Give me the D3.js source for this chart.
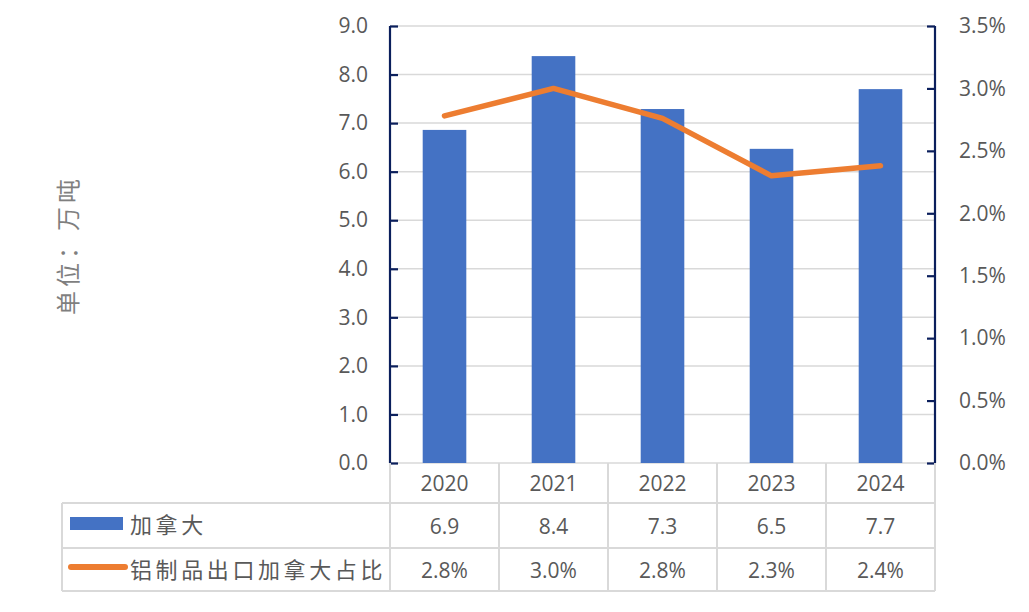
<!DOCTYPE html>
<html><head><meta charset="utf-8">
<script src="https://cdn.jsdelivr.net/npm/d3@7"></script>
<style>body{margin:0;background:#fff}svg{display:block}</style>
</head><body>
<script>
const years = ["2020","2021","2022","2023","2024"];
const volume = [6.86, 8.38, 7.29, 6.47, 7.70];          // 万吨
const share = [0.0278, 0.0300, 0.0276, 0.0230, 0.0238];  // 占比
const leftTicks = [0,1,2,3,4,5,6,7,8,9];
const rightTicks = [0,0.005,0.01,0.015,0.02,0.025,0.03,0.035];
const seriesNames = ["加拿大","铝制品出口加拿大占比"];
const yTitle = "单位：万吨";

const W = 1029, H = 612;
const svg = d3.select("body").append("svg").attr("width", W).attr("height", H);
const font = "'Open Sans','Noto Sans',sans-serif";
const cjk = "'Noto Sans CJK SC',sans-serif";
const textCol = "#595959", gridCol = "#d9d9d9", axisCol = "#0b1f5c";
const fs = "21px";

const x0 = 390, x1 = 935, yTop = 26, yBot = 463;
const x = d3.scaleBand().domain(years).range([x0, x1]).paddingInner(0).paddingOuter(0);
const yL = d3.scaleLinear().domain([0, 9]).range([yBot, yTop]);
const yR = d3.scaleLinear().domain([0, 0.035]).range([yBot, yTop]);

// gridlines
svg.append("g").selectAll("line").data(leftTicks).join("line")
  .attr("x1", x0).attr("x2", x1).attr("y1", d => yL(d)).attr("y2", d => yL(d))
  .attr("stroke", gridCol).attr("stroke-width", 1.5);

// bars
const bw = x.bandwidth() * 0.4;
svg.append("g").selectAll("rect").data(volume).join("rect")
  .attr("x", (d,i) => x(years[i]) + x.bandwidth()/2 - bw/2)
  .attr("width", bw)
  .attr("y", d => yL(d)).attr("height", d => yBot - yL(d))
  .attr("fill", "#4472C4");

// line
const line = d3.line().x((d,i) => x(years[i]) + x.bandwidth()/2).y(d => yR(d));
svg.append("path").datum(share).attr("d", line)
  .attr("fill", "none").attr("stroke", "#ED7D31").attr("stroke-width", 5.5)
  .attr("stroke-linejoin", "round").attr("stroke-linecap", "round");

// axes
const axL = d3.axisLeft(yL).tickValues(leftTicks).tickSize(-8).tickPadding(22).tickFormat(d3.format(".1f"));
const gL = svg.append("g").attr("transform", `translate(${x0},0)`).call(axL);
const axR = d3.axisRight(yR).tickValues(rightTicks).tickSize(-8).tickPadding(24).tickFormat(d3.format(".1%"));
const gR = svg.append("g").attr("transform", `translate(${x1},0)`).call(axR);
[gL, gR].forEach(g => {
  g.select(".domain").attr("stroke", axisCol).attr("stroke-width", 2.2).attr("d", `M0,${yTop}V${yBot}`);
  g.selectAll(".tick line").attr("stroke", axisCol).attr("stroke-width", 2.2);
  g.selectAll(".tick text").attr("fill", textCol).style("font-family", font).style("font-size", fs);
});

// y title
svg.append("text").attr("transform", `translate(77,245) rotate(-90)`)
  .attr("text-anchor", "middle").attr("fill", "#7f7f7f")
  .style("font-family", cjk).style("font-size", "24px").style("letter-spacing", "4px")
  .text(yTitle);

// data table
const rowY = [463, 503, 548, 591];
const tblL = 62;
const tg = svg.append("g").attr("stroke", gridCol).attr("stroke-width", 2);
tg.append("line").attr("x1", tblL).attr("x2", x1).attr("y1", rowY[1]).attr("y2", rowY[1]);
tg.append("line").attr("x1", tblL).attr("x2", x1).attr("y1", rowY[2]).attr("y2", rowY[2]);
tg.append("line").attr("x1", tblL).attr("x2", x1).attr("y1", rowY[3]).attr("y2", rowY[3]);
const colEdges = years.map(d => x(d)).concat([x1]);
tg.selectAll(".v").data(colEdges).join("line").attr("class","v")
  .attr("x1", d => d).attr("x2", d => d).attr("y1", rowY[0]).attr("y2", rowY[3]);
tg.append("line").attr("x1", tblL).attr("x2", tblL).attr("y1", rowY[1]).attr("y2", rowY[3]);

const cx = d => x(d) + x.bandwidth()/2;
svg.append("g").selectAll("text").data(years).join("text")
  .attr("x", d => cx(d)).attr("y", (rowY[0]+rowY[1])/2 + 8).attr("text-anchor","middle")
  .attr("fill", textCol).style("font-family", font).style("font-size",fs).text(d => d);
svg.append("g").selectAll("text").data(volume).join("text")
  .attr("x", (d,i) => cx(years[i])).attr("y", (rowY[1]+rowY[2])/2 + 8).attr("text-anchor","middle")
  .attr("fill", textCol).style("font-family", font).style("font-size",fs).text(d => d3.format(".1f")(d));
svg.append("g").selectAll("text").data(share).join("text")
  .attr("x", (d,i) => cx(years[i])).attr("y", (rowY[2]+rowY[3])/2 + 8).attr("text-anchor","middle")
  .attr("fill", textCol).style("font-family", font).style("font-size",fs).text(d => d3.format(".1%")(d));

// legend keys
svg.append("rect").attr("x", 70).attr("y", 517).attr("width", 53).attr("height", 13).attr("fill", "#4472C4");
svg.append("line").attr("x1", 71).attr("x2", 125).attr("y1", 567).attr("y2", 567)
  .attr("stroke", "#ED7D31").attr("stroke-width", 6).attr("stroke-linecap", "round");
svg.append("text").attr("x", 130).attr("y", 533).attr("fill", textCol)
  .style("font-family", cjk).style("font-size","22px").style("letter-spacing","3.6px").text(seriesNames[0]);
svg.append("text").attr("x", 130).attr("y", 578).attr("fill", textCol)
  .style("font-family", cjk).style("font-size","22px").style("letter-spacing","3.6px").text(seriesNames[1]);
</script>
</body></html>
